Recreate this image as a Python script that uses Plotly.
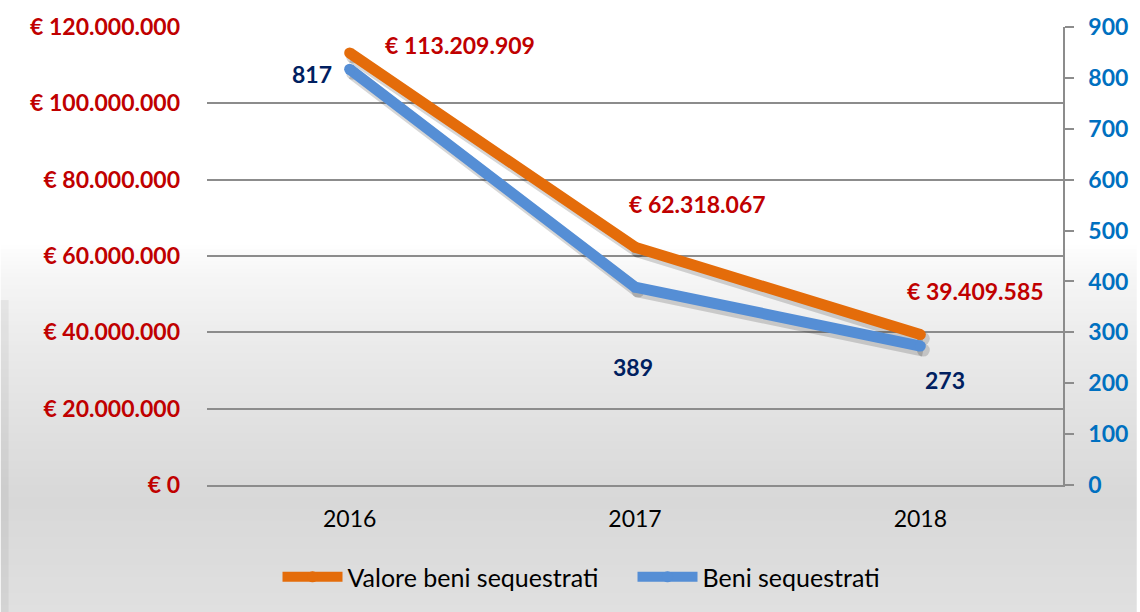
import plotly.graph_objects as go

# ---- data ----
years = ["2016", "2017", "2018"]
valore = [113209909, 62318067, 39409585]
beni = [817, 389, 273]
valore_labels = ["€ 113.209.909", "€ 62.318.067", "€ 39.409.585"]
beni_labels = ["817", "389", "273"]
left_tickvals = [0, 20000000, 40000000, 60000000, 80000000, 100000000, 120000000]
left_ticktext = ["€ 0", "€ 20.000.000", "€ 40.000.000", "€ 60.000.000",
                 "€ 80.000.000", "€ 100.000.000", "€ 120.000.000"]
right_tickvals = [0, 100, 200, 300, 400, 500, 600, 700, 800, 900]

# ---- style ----
W, H = 1140, 612
ML, MR, MT, MB = 207, 74, 27, 127
PW, PH = W - ML - MR, H - MT - MB
ORANGE = "#E46C0A"
BLUE = "#558ED5"
RED = "#C00000"
NAVY = "#002060"
RBLUE = "#0070C0"
GRID = "#8C8C8C"
FONT = "Lato"
LW = 11

LMAX, RMAX = 120000000, 900
SX, SY = 3, 4
dx = SX / (PW / 3)
dyl = SY / PH * LMAX
dyr = SY / PH * RMAX

fig = go.Figure()

SHADOW = "rgba(0,0,0,0.16)"
fig.add_trace(go.Scatter(x=years, y=valore, xaxis="x", yaxis="y", mode="lines+markers",
                         line=dict(color=SHADOW, width=LW + 2),
                         marker=dict(color=SHADOW, size=LW + 2, line=dict(width=0)),
                         showlegend=False, hoverinfo="skip"))
fig.add_trace(go.Scatter(x=years, y=beni, xaxis="x", yaxis="y4", mode="lines+markers",
                         line=dict(color=SHADOW, width=LW + 2),
                         marker=dict(color=SHADOW, size=LW + 2, line=dict(width=0)),
                         showlegend=False, hoverinfo="skip"))
fig.add_trace(go.Scatter(x=years, y=valore, xaxis="x2", yaxis="y2", mode="lines+markers",
                         name="Valore beni sequestrati",
                         line=dict(color=ORANGE, width=LW),
                         marker=dict(color=ORANGE, size=LW, line=dict(width=0))))
fig.add_trace(go.Scatter(x=years, y=beni, xaxis="x2", yaxis="y3", mode="lines+markers",
                         name="Beni sequestrati",
                         line=dict(color=BLUE, width=LW),
                         marker=dict(color=BLUE, size=LW, line=dict(width=0))))

shapes = []
def px2py(y):
    return (H - MB - y) / PH
def px2px(x):
    return (x - ML) / PW
y0 = 245
step = 4
while y0 < H:
    y1 = min(y0 + step, H)
    ym = (y0 + y1) / 2
    if ym < 500:
        t = max(0.0, (ym - 245) / 255)
        t = t ** 0.7
        g = 255 - t * (255 - 216)
    else:
        t = (ym - 500) / (H - 500)
        g = 216 + t * 8
    g = int(round(g))
    shapes.append(dict(type="rect", xref="paper", yref="paper", layer="below",
                       x0=px2px(0), x1=px2px(W), y0=px2py(y1), y1=px2py(y0),
                       line=dict(width=0), fillcolor=f"rgb({g},{g},{g})"))
    y0 = y1
shapes.append(dict(type="rect", xref="paper", yref="paper", layer="below",
                   x0=px2px(0), x1=px2px(8), y0=px2py(H), y1=px2py(300),
                   line=dict(width=0), fillcolor="rgba(0,0,0,0.05)"))

fig.update_layout(
    width=W, height=H,
    margin=dict(l=ML, r=MR, t=MT, b=MB),
    paper_bgcolor="white",
    plot_bgcolor="rgba(0,0,0,0)",
    shapes=shapes,
    hovermode=False,
    xaxis=dict(type="category", range=[-0.5 - dx, 2.5 - dx], visible=False),
    yaxis=dict(range=[dyl, LMAX + dyl], visible=False),
    yaxis4=dict(range=[dyr, RMAX + dyr], visible=False, overlaying="y", anchor="x"),
    xaxis2=dict(type="category", range=[-0.5, 2.5], overlaying="x", anchor="y2",
                side="bottom", showgrid=False, showline=True, linecolor=GRID,
                linewidth=1.5, ticks="", ticklabelstandoff=13,
                tickfont=dict(family=FONT, size=23, color="black")),
    yaxis2=dict(range=[0, LMAX], overlaying="y", anchor="x2", side="left",
                tickvals=left_tickvals, ticktext=left_ticktext,
                showgrid=True, gridcolor=GRID, gridwidth=1.5, zeroline=False,
                showline=False, ticks="", ticklabelstandoff=26,
                tickfont=dict(family=FONT, size=23, color=RED, weight="bold")),
    yaxis3=dict(range=[0, RMAX], overlaying="y", anchor="x2", side="right",
                tickvals=right_tickvals, showgrid=False, zeroline=False,
                showline=True, linecolor=GRID, linewidth=1.5,
                ticks="outside", ticklen=9, tickwidth=1.5, tickcolor=GRID,
                ticklabelstandoff=10,
                tickfont=dict(family=FONT, size=23, color=RBLUE, weight="bold")),
    legend=dict(orientation="h", x=px2px(634), xanchor="center",
                y=px2py(577), yanchor="middle", bgcolor="rgba(0,0,0,0)",
                itemwidth=60, entrywidth=280, entrywidthmode="pixels",
                font=dict(family=FONT, size=25, color="black"),
                traceorder="normal"),
    showlegend=True,
)

v_shift = [(110, 8), (62, 43), (55, 44)]
b_shift = [(-38, -5), (-2, -80), (25, -34)]
for i in range(3):
    fig.add_annotation(x=i, y=valore[i], xref="x2", yref="y2",
                       text=valore_labels[i], showarrow=False,
                       xshift=v_shift[i][0], yshift=v_shift[i][1],
                       font=dict(family=FONT, size=23, color=RED, weight="bold"))
    fig.add_annotation(x=i, y=beni[i], xref="x2", yref="y3",
                       text=beni_labels[i], showarrow=False,
                       xshift=b_shift[i][0], yshift=b_shift[i][1],
                       font=dict(family=FONT, size=23, color=NAVY, weight="bold"))

fig.write_html("out.html", config={"displayModeBar": False},
               post_script="document.body.style.margin='0px';")
